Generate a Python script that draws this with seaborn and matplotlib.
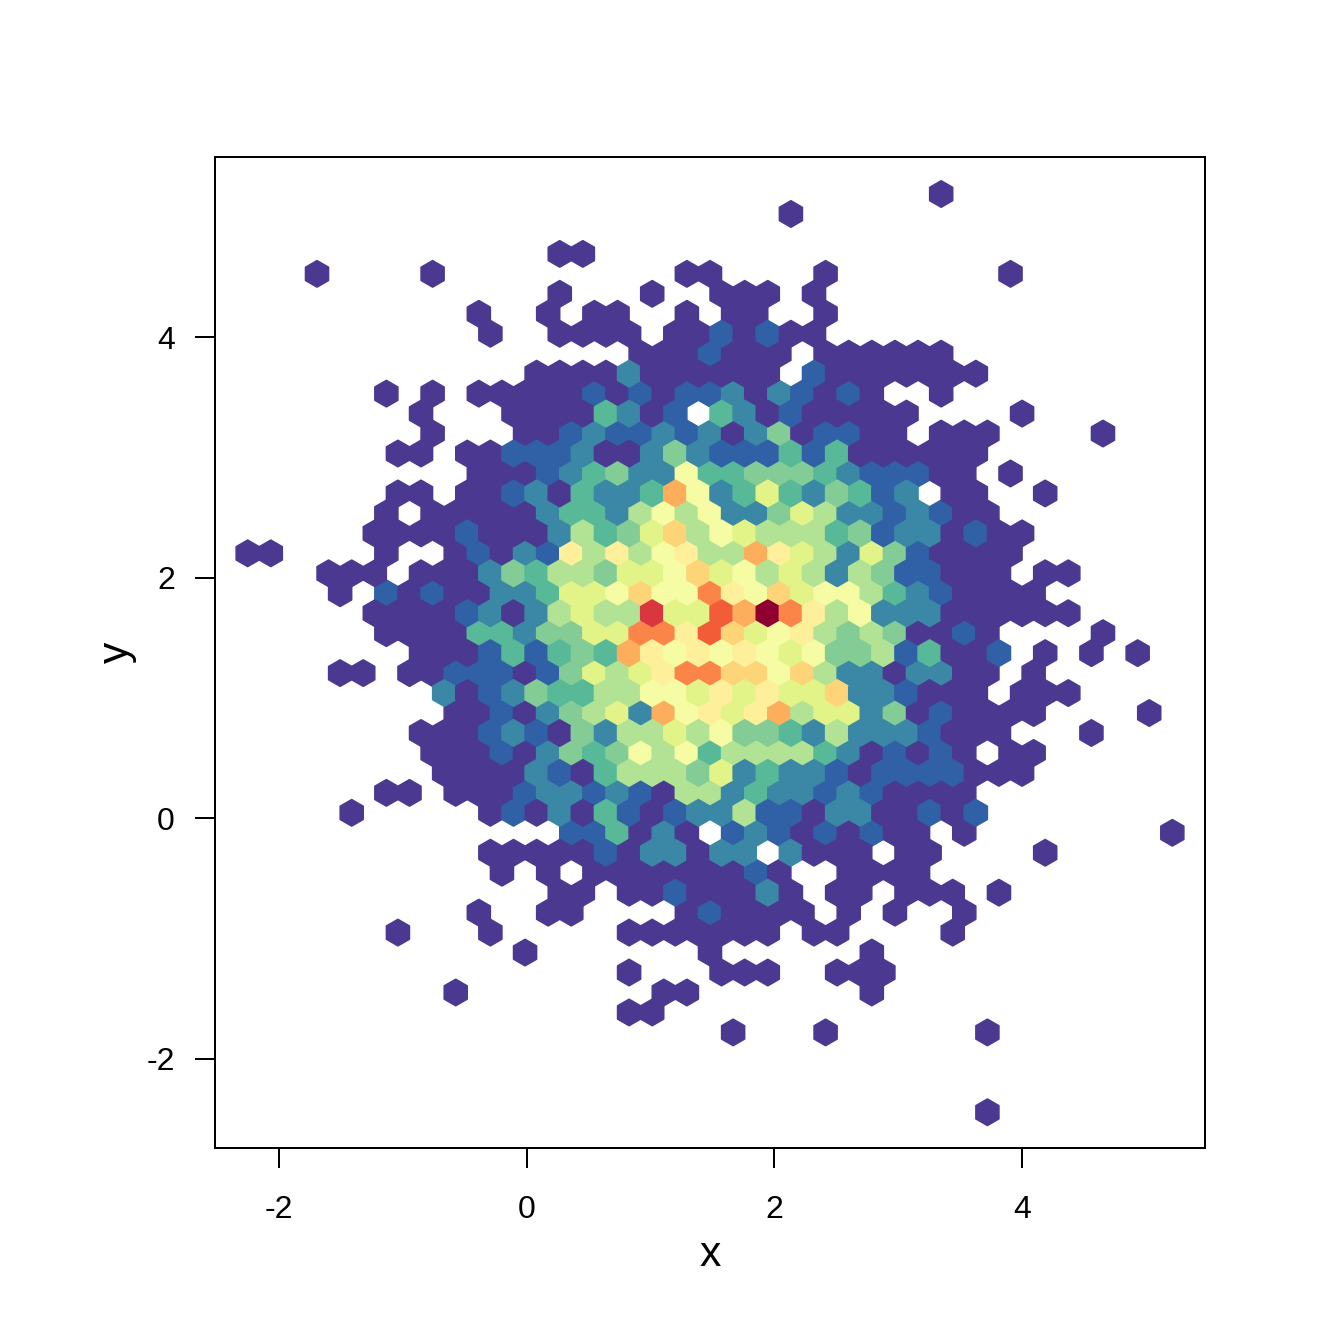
import numpy as np
import pandas as pd
import matplotlib
matplotlib.use("Agg")
import matplotlib.pyplot as plt
from matplotlib.colors import ListedColormap
import seaborn as sns

#DATA: hexagon rows, bottom to top
#row number, first column, then one colour class per column (. = empty cell, a=10 ... f=15)
row_number = [0, 4, 5, 6, 7, 8, 9, 10, 11, 12, 13, 14, 15, 16, 17, 18, 19, 20, 21, 22, 23, 24, 25,
              26, 27, 28, 29, 30, 31, 32, 33, 34, 35, 36, 37, 38, 39, 40, 41, 42, 43, 45, 46]
row_start = [32, 21, 16, 9, 16, 12, 6, 10, 13, 11, 10, 14, 4, 6, 8, 8, 7, 9, 8, 4, 7, 6, 5,
             4, 3, 0, 5, 6, 6, 10, 6, 8, 7, 6, 12, 17, 10, 10, 13, 3, 13, 23, 30]
row_levels = [
    "1",
    "1...1......1",
    "11",
    "1........11.......1",
    "1...111..111",
    "1.......1......1",
    "1...1.....1111111.11....1",
    "1..11....121111.1.1..1",
    "11.11211131.11.111.1",
    "1.1.111111121..1111",
    "111112133133.3111.11....1",
    "224131.232121211.1........1",
    "1.....1213142123362213311212",
    "11.11123323216634332321111",
    "11113214666573433212222111",
    "111213545868466664312121.11",
    "11123215366768554363332111...1",
    "112135673b8979b67735121111....1",
    "31235446688797977a332111.111",
    "11.112221257679ccaa8a63313311.1",
    "111242454b9898987855624112.1.1.1",
    "11114435577cc9da78965651121....1",
    "111123136766e77dbfc968333111111",
    "1.21211334778a88c98a78864321111",
    "111.111354665778a7867636522111.11",
    "11....1..1213296968966b97637521111",
    "1111211136457a687666452331211",
    "1.1111134436868335763323211",
    "11.112314334b8347435423.11..1",
    "1112345338445554322211.1",
    "11.11222311353222424111111",
    "1...11232232313512211.111....1",
    "1...11114312.431211111....1",
    "1.1.111112121223132121..1",
    "11113111111.21111111",
    "1112111.111111",
    "1..1111.1121211",
    "1..1.11..1.11..1",
    "1...1..111.1",
    "1....1..........11....1.......1",
    "11",
    "1",
    "1",
]

#COLORS
level_colors = ["#4B3991", "#3060A5", "#3A88A5", "#57B997", "#84CC95", "#B2E293", "#E2F488", "#F5FCA3",
                "#FEF09A", "#FDD578", "#FDAE5C", "#FB8548", "#F25C36", "#D9363F", "#8F0030"]

xticks = [-2, 0, 2, 4]
yticks = [-2, 0, 2, 4]

#GRID
x0, dx = -2.256, 0.1868
y0, dy = -2.443, 0.1659

cells = []
for k, start, levels in zip(row_number, row_start, row_levels):
    for i, ch in enumerate(levels):
        if ch != ".":
            cells.append({"x": x0 + dx * (start + i + 0.5 * (k % 2)), "y": y0 + dy * k, "count": int(ch, 16)})
df = pd.DataFrame(cells)

sns.set_theme(style="ticks", rc={"axes.linewidth": 0.75, "xtick.major.width": 0.75, "ytick.major.width": 0.75,
                                 "xtick.major.size": 7.5, "ytick.major.size": 7.5,
                                 "axes.edgecolor": "black", "xtick.color": "black", "ytick.color": "black",
                                 "axes.labelcolor": "black", "axes.unicode_minus": False})
plt.rcParams["font.family"] = ["Liberation Sans", "DejaVu Sans"]

fig = plt.figure(figsize=(7, 7), dpi=192)
ax = fig.add_axes([215 / 1344, 1 - 1148 / 1344, 990.5 / 1344, 991 / 1344])

cmap = ListedColormap(sns.color_palette(level_colors))
ax.hexbin(df["x"], df["y"], C=df["count"], reduce_C_function=np.sum,
          gridsize=(40, 23), extent=(x0, x0 + 40 * dx, y0, y0 + 46 * dy),
          cmap=cmap, vmin=0.5, vmax=15.5, linewidths=0.55, edgecolors="face")

ax.set_xlim(-2.52, 5.484)
ax.set_ylim(-2.74, 5.496)
ax.set_xticks(xticks)
ax.set_yticks(yticks)
ax.tick_params(axis="x", labelsize=12, pad=10.2)
ax.tick_params(axis="y", labelsize=12, pad=7.5)
ax.set_xlabel("x", fontsize=16, labelpad=3.8)
ax.set_ylabel("y", fontsize=16, labelpad=3.6)

fig.savefig("out.png", dpi=192)
